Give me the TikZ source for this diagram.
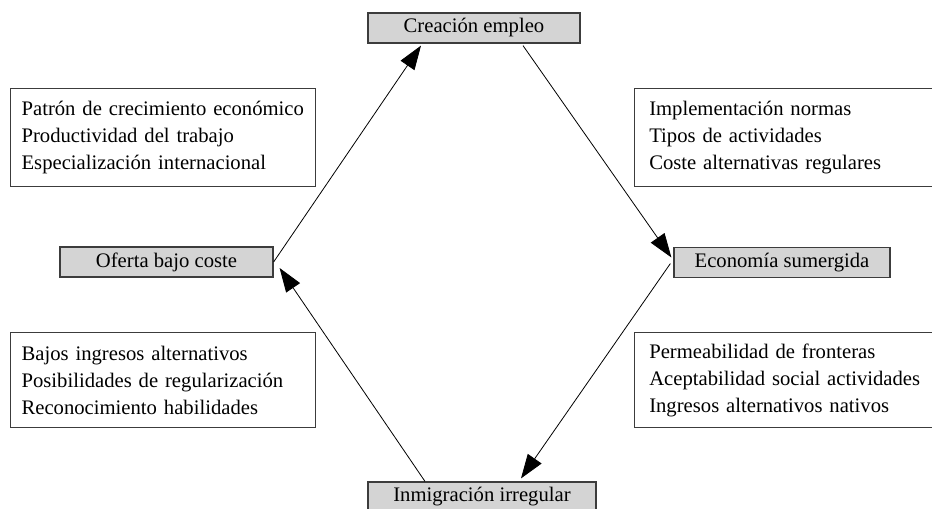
\documentclass[tikz,border=0pt]{standalone}
\usepackage{fontspec}
\setmainfont{Liberation Serif}
\usetikzlibrary{arrows.meta,calc}

\tikzset{every picture/.style={line width=0.75pt}}
\tikzset{
  keybox/.style={draw={rgb, 255:red, 60; green, 60; blue, 60}, fill={rgb, 255:red, 212; green, 212; blue, 212}, line width=0.9pt, minimum height=22.5pt, inner sep=0pt},
  listbox/.style={draw={rgb, 255:red, 60; green, 60; blue, 60}, line width=0.9pt, anchor=north west, align=left, inner xsep=8.25pt, inner ysep=0pt},
  flow/.style={-{Triangle[length=18pt,width=12.5pt]}, line width=0.6pt},
}

\begin{document}
\begin{tikzpicture}[x=0.75pt,y=0.75pt,yscale=-1,xscale=1,font=\fontsize{15.5}{20.25}\selectfont]
\clip (0,0) rectangle (932,508); %set diagram at 932 x 508

%Shape: Rectangle [keyboxes]
\node [keybox, minimum width=159pt] (creacion) at (474,28) {Creación empleo};
\node [keybox, minimum width=159.75pt] (oferta) at (166.5,262) {Oferta bajo coste};
\node [keybox, minimum width=162pt] (economia) at (782,262.5) {Economía sumergida};
\node [keybox, minimum width=171pt] (inmigracion) at (482,497) {Inmigración irregular};

%Shape: Rectangle [lists]
\node [listbox, minimum width=228.75pt, minimum height=73.5pt, text width=212.25pt] (crecimiento) at (10,88) {Patrón de crecimiento económico\\Productividad del trabajo\\Especialización internacional};
\node [listbox, minimum width=300pt, minimum height=73.5pt, text width=280pt, inner xsep=11pt] (normas) at (634,88) {Implementación normas\\Tipos de actividades\\Coste alternativas regulares};
\node [listbox, minimum width=228.75pt, minimum height=71.25pt, text width=212.25pt] (ingresos) at (10,332) {Bajos ingresos alternativos\\Posibilidades de regularización\\Reconocimiento habilidades};
\node [listbox, minimum width=300pt, minimum height=71.25pt, text width=280pt, inner xsep=11pt] (fronteras) at (634,332) {Permeabilidad de fronteras\\Aceptabilidad social actividades\\Ingresos alternativos nativos};

%Straight Lines [cycle]
\draw [flow] (oferta.east) -- ($(creacion.south)+(-53,2)$);
\draw [flow] ($(creacion.south)+(49,2)$) -- ($(economia.west)+(-2,-5)$);
\draw [flow] ($(economia.west)+(-3,1)$) -- ($(inmigracion.north)+(39,-3)$);
\draw [flow] ($(inmigracion.north)+(-57,0)$) -- ($(oferta.east)+(6,6)$);

\end{tikzpicture}
\end{document}
